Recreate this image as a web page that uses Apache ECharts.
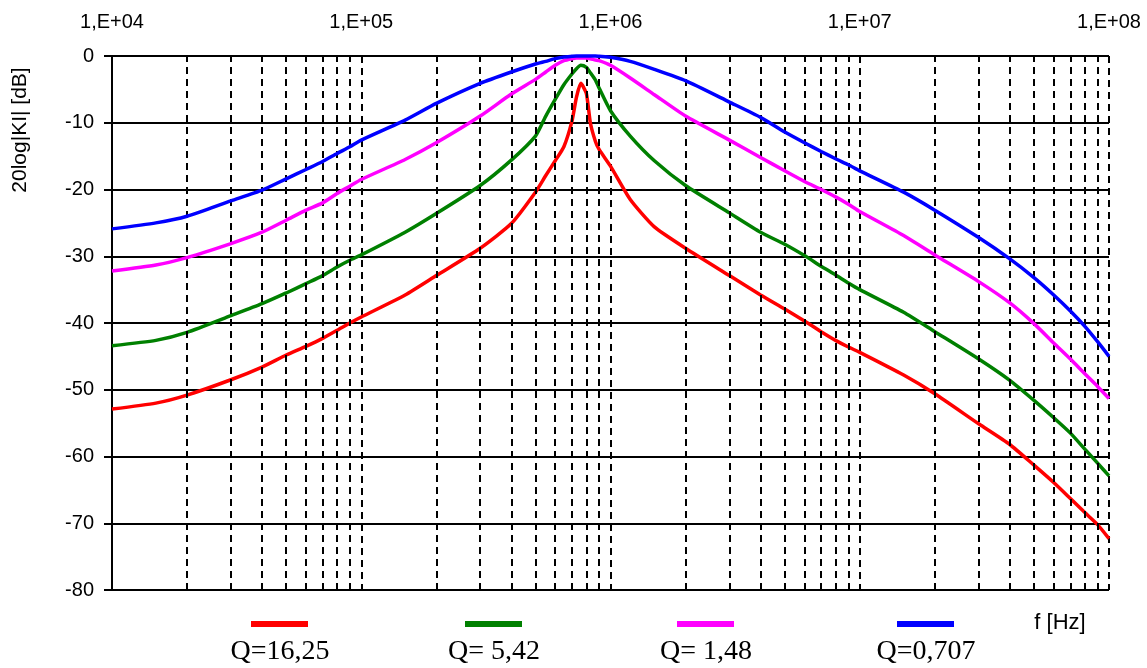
<!DOCTYPE html>
<html>
<head>
<meta charset="utf-8">
<script src="https://cdn.jsdelivr.net/npm/echarts@6/dist/echarts.min.js"></script>
<style>html,body{margin:0;padding:0;background:#fff;}#chart{width:1147px;height:668px;}</style>
</head>
<body>
<div id="chart"></div>
<script>
// Frequencies [Hz]
const freqs = [1e4,1.5e4,2e4,3e4,4e4,5e4,6e4,7e4,8e4,9e4,1e5,
  1.5e5,2e5,3e5,4e5,5e5,
  5.5e5,6e5,6.5e5,7e5,7.3e5,7.6e5,8e5,8.3e5,8.7e5,9e5,
  1e6,1.2e6,1.5e6,
  2e6,3e6,4e6,5e6,6e6,7e6,8e6,9e6,
  1e7,
  1.5e7,2e7,3e7,4e7,5e7,6e7,7e7,8e7,9e7,
  1e8];
// 20log|K| [dB]
const q1625 = [-52.9,-52.0,-50.8,-48.5,-46.6,-44.8,-43.5,-42.3,-41.1,-40.0,-39.1,
  -35.8,-32.9,-28.8,-25.1,-20.4,
  -17.9,-15.7,-13.6,-9.8,-6.2,-4.1,-5.6,-10.0,-12.8,-14.0,
  -16.5,-21.5,-25.6,
  -28.8,-32.9,-35.8,-37.9,-39.7,-41.3,-42.6,-43.6,
  -44.4,
  -47.8,-50.6,-55.1,-58.2,-61.3,-63.9,-66.3,-68.4,-70.2,
  -72.3];
const q542 = [-43.4,-42.6,-41.4,-38.9,-37.1,-35.5,-34.1,-32.9,-31.6,-30.6,-29.8,
  -26.4,-23.6,-19.4,-15.6,-12.0,
  -9.0,-6.5,-4.3,-2.7,-1.9,-1.4,-1.7,-2.5,-3.6,-4.8,
  -8.2,-12.0,-15.7,
  -19.4,-23.5,-26.4,-28.2,-29.9,-31.5,-32.8,-34.0,
  -35.0,
  -38.4,-41.3,-45.4,-48.6,-51.6,-54.2,-56.5,-58.9,-61.0,
  -62.9];
const q148 = [-32.2,-31.3,-30.2,-28.1,-26.4,-24.6,-23.1,-22.0,-20.6,-19.5,-18.5,
  -15.5,-13.0,-9.0,-5.7,-3.5,
  -2.4,-1.4,-0.7,-0.4,-0.3,-0.3,-0.3,-0.4,-0.6,-0.7,
  -1.4,-3.3,-5.8,
  -9.0,-12.6,-15.2,-17.2,-18.8,-20.0,-21.1,-22.2,
  -23.3,
  -26.9,-29.8,-33.8,-37.0,-40.1,-43.0,-45.4,-47.6,-49.5,
  -51.3];
const q0707 = [-25.9,-25.0,-24.0,-21.7,-20.1,-18.4,-17.0,-15.8,-14.6,-13.6,-12.6,
  -9.6,-7.1,-4.1,-2.4,-1.2,
  -0.8,-0.4,-0.15,-0.05,0,0,0,0,0,-0.05,
  -0.2,-0.8,-2.0,
  -3.7,-6.9,-9.2,-11.4,-13.0,-14.3,-15.4,-16.3,
  -17.2,
  -20.4,-23.1,-27.2,-30.4,-33.2,-35.8,-38.2,-40.5,-42.8,
  -45.0];

const seriesNames = ['Q=16,25','Q= 5,42','Q= 1,48','Q=0,707'];
const seriesColors = ['#ff0000','#008000','#ff00ff','#0000ff'];
const seriesValues = [q1625, q542, q148, q0707];

// Grid positions
const decadeTicks = [1e4,1e5,1e6,1e7,1e8];
const minorMultipliers = [2,3,4,5,6,7,8,9];
const minorGrid = [];
decadeTicks.slice(0,4).forEach(d => minorMultipliers.forEach(m => minorGrid.push(m*d)));

const chart = echarts.init(document.getElementById('chart'), null, {renderer:'canvas'});
const sans = '"Liberation Sans", Arial, sans-serif';
const serif = '"Liberation Serif", "Times New Roman", serif';

const series = seriesValues.map((vals, i) => ({
  name: seriesNames[i],
  type: 'line',
  data: freqs.map((f, k) => [f, vals[k]]),
  showSymbol: false,
  smooth: 0.2,
  clip: false,
  z: 3 + i,
  lineStyle: {color: seriesColors[i], width: 3.5},
  itemStyle: {color: seriesColors[i]}
}));
series.unshift({
  type: 'line',
  data: [],
  z: 1,
  silent: true,
  markLine: {
    silent: true,
    symbol: 'none',
    label: {show: false},
    animation: false,
    lineStyle: {color: '#000', type: [7,5], width: 2},
    data: minorGrid.map(v => ({xAxis: v}))
  }
});

const legendCenters = [280, 494, 706, 926];
const graphic = [];
seriesNames.forEach((n, i) => {
  graphic.push({type:'rect', left: legendCenters[i]-29, top: 621, shape:{width:57, height:6}, style:{fill: seriesColors[i]}});
  graphic.push({type:'text', x: legendCenters[i], y: 652, style:{text: n, font: '28px ' + serif, fill:'#000', textAlign:'center', textVerticalAlign:'middle', verticalAlign:'middle'}});
});
graphic.push({type:'text', x: 1060, y: 623, style:{text:'f [Hz]', font:'22px ' + sans, fill:'#000', textAlign:'center', textVerticalAlign:'middle', verticalAlign:'middle'}});
graphic.push({type:'text', x: 20, y: 130, rotation: Math.PI/2, style:{text:'20log|KI| [dB]', font:'21px ' + sans, fill:'#000', textAlign:'center', textVerticalAlign:'middle', verticalAlign:'middle'}});

chart.setOption({
  animation: false,
  backgroundColor: '#fff',
  grid: {left: 112, right: 38, top: 56, bottom: 78, containLabel: false},
  xAxis: {
    type: 'log', logBase: 10, min: 1e4, max: 1e8, position: 'top',
    axisLine: {show: false}, axisTick: {show: false},
    splitLine: {show: true, lineStyle: {color: '#000', type: [7,5], width: 2}},
    axisLabel: {margin: 24, color: '#000', fontFamily: sans, fontSize: 20,
      formatter: v => '1,E+' + String(Math.round(Math.log10(v))).padStart(2,'0')}
  },
  yAxis: {
    type: 'value', min: -80, max: 0, interval: 10,
    axisLine: {show: true, lineStyle: {color: '#000', width: 2}},
    axisTick: {show: true, inside: false, length: 8, lineStyle: {color: '#000', width: 2}},
    splitLine: {show: true, lineStyle: {color: '#000', width: 2}},
    axisLabel: {margin: 18, color: '#000', fontFamily: sans, fontSize: 20}
  },
  series: series,
  graphic: graphic
});
</script>
</body>
</html>
